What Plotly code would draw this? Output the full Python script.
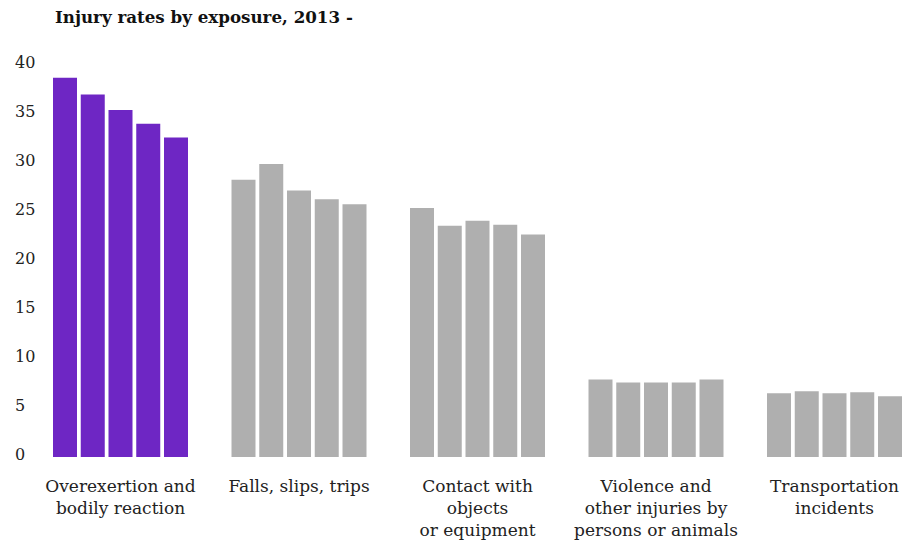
import plotly.graph_objects as go

categories = [
    "Overexertion and<br>bodily reaction",
    "Falls, slips, trips",
    "Contact with<br>objects<br>or equipment",
    "Violence and<br>other injuries by<br>persons or animals",
    "Transportation<br>incidents",
]
years = ["2013", "2014", "2015", "2016", "2017"]
values = {
    "2013": [38.7, 28.3, 25.4, 7.9, 6.5],
    "2014": [37.0, 29.9, 23.6, 7.6, 6.7],
    "2015": [35.4, 27.2, 24.1, 7.6, 6.5],
    "2016": [34.0, 26.3, 23.7, 7.6, 6.6],
    "2017": [32.6, 25.8, 22.7, 7.9, 6.2],
}
bar_colors = ["#6E26C4", "#AFAFAF", "#AFAFAF", "#AFAFAF", "#AFAFAF"]
y_ticks = [0, 5, 10, 15, 20, 25, 30, 35, 40]

FONT = "DejaVu Serif"
W, H = 915, 543
L, R, T, B = 12, 10, 60, 86

fig = go.Figure()
for yr in years:
    fig.add_trace(go.Bar(
        x=categories, y=values[yr], name=yr,
        marker=dict(color=bar_colors, line=dict(width=0)),
        showlegend=False,
    ))

plot_w = W - L - R
px_per_cat = 178.5
x0 = (L - 120.5) / px_per_cat
x1 = x0 + plot_w / px_per_cat
plot_h = H - T - B
y_top = plot_h / 9.8

fig.update_layout(
    width=W, height=H,
    margin=dict(l=L, r=R, t=T, b=B, pad=0, autoexpand=False),
    paper_bgcolor="white", plot_bgcolor="white",
    barmode="group", bargap=0.2227, bargroupgap=0.135,
    font=dict(family=FONT, size=16, color="#222222"),
    title=dict(text="<b>Injury rates by exposure, 2013 -</b>",
               x=55 / W, xanchor="left", xref="container",
               y=1 - 17 / H, yanchor="middle", yref="container",
               font=dict(family=FONT, size=16.7, color="#111111")),
    xaxis=dict(range=[x0, x1], showgrid=False, zeroline=False, showline=False,
               ticks="", tickfont=dict(size=17, color="#222222"),
               ticklabelstandoff=17, automargin=False),
    yaxis=dict(range=[0, y_top], tickvals=y_ticks, showgrid=False,
               zeroline=False, showline=False, ticks="",
               ticklabelposition="inside", ticklabelshift=-3,
               ticklabeloverflow="allow", automargin=False,
               tickfont=dict(size=16, color="#222222")),
)

fig.write_html("out.html")
